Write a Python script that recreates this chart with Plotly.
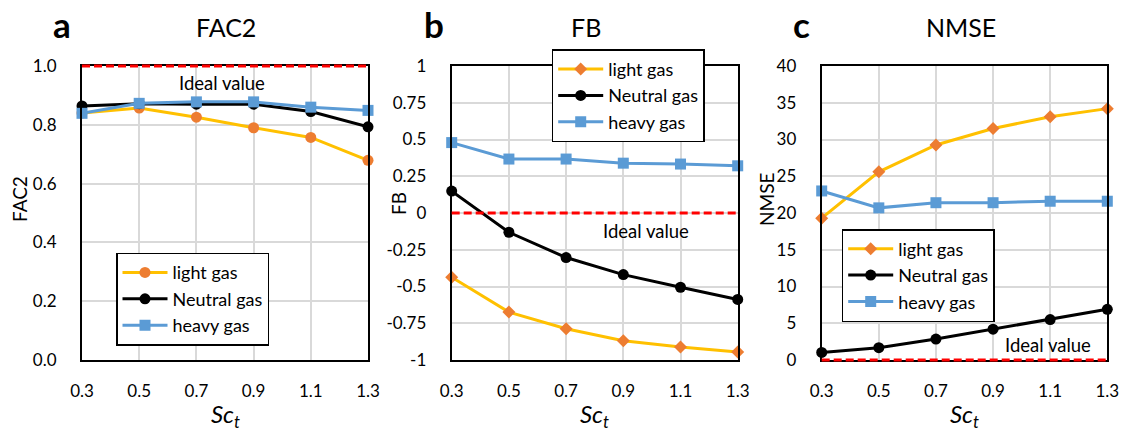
import plotly.graph_objects as go

sct = [0.3, 0.5, 0.7, 0.9, 1.1, 1.3]
x_ticks = ["0.3", "0.5", "0.7", "0.9", "1.1", "1.3"]

fac2_light = [0.840, 0.857, 0.826, 0.790, 0.757, 0.679]
fac2_neutral = [0.864, 0.872, 0.870, 0.870, 0.845, 0.793]
fac2_heavy = [0.839, 0.873, 0.878, 0.878, 0.860, 0.849]

fb_light = [-0.437, -0.674, -0.787, -0.869, -0.912, -0.946]
fb_neutral = [0.149, -0.131, -0.303, -0.419, -0.505, -0.588]
fb_heavy = [0.479, 0.367, 0.367, 0.339, 0.333, 0.321]

nmse_light = [19.3, 25.6, 29.25, 31.5, 33.1, 34.2]
nmse_neutral = [1.03, 1.67, 2.85, 4.2, 5.5, 6.9]
nmse_heavy = [23.0, 20.7, 21.4, 21.4, 21.6, 21.6]

fac2_ticks = [0.0, 0.2, 0.4, 0.6, 0.8, 1.0]
fb_ticks = [-1, -0.75, -0.5, -0.25, 0, 0.25, 0.5, 0.75, 1]
fb_ticklabels = ["-1", "-0.75", "-0.5", "-0.25", "0", "0.25", "0.5", "0.75", "1"]
nmse_ticks = [0, 5, 10, 15, 20, 25, 30, 35, 40]

series_names = ["light gas", "Neutral gas", "heavy gas"]
ideal = [1.0, 0.0, 0.0]

FONT = "Lato"
GOLD = "#FFC000"
ORANGE = "#ED7D31"
BLUE = "#5B9BD5"

W, H = 1125, 432
xdoms = [(82 / W, 368 / W), (451.7 / W, 737.7 / W), (821.7 / W, 1107.3 / W)]
ydom = (1 - 360 / H, 1 - 66 / H)
yranges = [[0, 1.0], [-1, 1], [0, 40]]

fig = go.Figure()

panels = [
    (fac2_light, fac2_neutral, fac2_heavy, "circle"),
    (fb_light, fb_neutral, fb_heavy, "diamond"),
    (nmse_light, nmse_neutral, nmse_heavy, "diamond"),
]
legend_ids = ["legend", "legend2", "legend3"]

for i, (l, n, h, lsym) in enumerate(panels):
    xa = "x" if i == 0 else f"x{i+1}"
    ya = "y" if i == 0 else f"y{i+1}"
    lg = legend_ids[i]
    fig.add_trace(go.Scatter(x=sct, y=l, name=series_names[0], mode="lines+markers",
                             line=dict(color=GOLD, width=3),
                             marker=dict(color=ORANGE, symbol=lsym, size=11 if lsym == "circle" else 10,
                                         line=dict(width=0)),
                             xaxis=xa, yaxis=ya, legend=lg, cliponaxis=False))
    fig.add_trace(go.Scatter(x=sct, y=n, name=series_names[1], mode="lines+markers",
                             line=dict(color="black", width=3),
                             marker=dict(color="black", symbol="circle", size=11, line=dict(width=0)),
                             xaxis=xa, yaxis=ya, legend=lg, cliponaxis=False))
    fig.add_trace(go.Scatter(x=sct, y=h, name=series_names[2], mode="lines+markers",
                             line=dict(color=BLUE, width=3),
                             marker=dict(color=BLUE, symbol="square", size=11, line=dict(width=0)),
                             xaxis=xa, yaxis=ya, legend=lg, cliponaxis=False))
    # ideal-value reference line, placed in axis-domain fraction so it is not clipped at the frame
    yfrac = (ideal[i] - yranges[i][0]) / (yranges[i][1] - yranges[i][0])
    fig.add_shape(type="line", xref=f"{xa} domain", yref=f"{ya} domain", x0=0, x1=1, y0=yfrac, y1=yfrac,
                  line=dict(color="red", width=3, dash="8px,4px"), layer="above")

axis_common = dict(showgrid=True, gridcolor="#D9D9D9", gridwidth=1.5, showline=True,
                   linecolor="black", linewidth=2, mirror=True, zeroline=False, automargin=False,
                   tickfont=dict(family=FONT, size=17, color="black"), ticks="")

ytickvals = [fac2_ticks, fb_ticks, nmse_ticks]
yticktext = [[f"{v:.1f}" for v in fac2_ticks], fb_ticklabels, [str(v) for v in nmse_ticks]]

layout = dict(width=W, height=H, margin=dict(l=0, r=0, t=0, b=0, pad=0, autoexpand=False),
              template="none",
              plot_bgcolor="white", paper_bgcolor="white", font=dict(family=FONT, color="black"))
for i in range(3):
    xk = "xaxis" if i == 0 else f"xaxis{i+1}"
    yk = "yaxis" if i == 0 else f"yaxis{i+1}"
    layout[xk] = dict(axis_common, domain=list(xdoms[i]), range=[0.3, 1.3], tickvals=sct,
                      ticktext=x_ticks, anchor="y" if i == 0 else f"y{i+1}", ticklabelstandoff=15)
    layout[yk] = dict(axis_common, domain=list(ydom), range=yranges[i], tickvals=ytickvals[i],
                      ticktext=yticktext[i], anchor="x" if i == 0 else f"x{i+1}", ticklabelstandoff=20)

leg_common = dict(bgcolor="white", bordercolor="black", borderwidth=1.5,
                  font=dict(family=FONT, size=18, color="black"), xref="paper", yref="paper",
                  xanchor="left", yanchor="top", itemwidth=45, tracegroupgap=0)
layout["legend"] = dict(leg_common, x=116 / W, y=1 - 252.7 / H)
layout["legend2"] = dict(leg_common, x=551.7 / W, y=1 - 49.3 / H)
layout["legend3"] = dict(leg_common, x=841.7 / W, y=1 - 229 / H)
fig.update_layout(**layout)

ann = []
letters = ["a", "b", "c"]
letter_x = [62, 434, 801]
letter_y = [24, 24, 24]
titles = ["FAC2", "FB", "NMSE"]
title_x = [226, 586, 961]
ytitles = ["FAC2", "FB", "NMSE"]
ytitle_x = [19, 398, 766]
ytitle_y = [199, 204, 200]
ideal_xy = [(222, 83), (646, 231), (1048, 345)]


def A(text, x, y, size, **kw):
    return dict(text=text, x=x / W, y=1 - y / H, xref="paper", yref="paper", showarrow=False,
                xanchor="center", yanchor="middle", font=dict(family=FONT, size=size, color="black"), **kw)


for i in range(3):
    ann.append(A(f"<b>{letters[i]}</b>", letter_x[i], letter_y[i], 35))
    ann.append(A(titles[i], title_x[i], 27, 25))
    ann.append(A(ytitles[i], ytitle_x[i], ytitle_y[i], 19, textangle=-90))
    ann.append(A("<i>Sc</i><sub><i>t</i></sub>", (xdoms[i][0] + xdoms[i][1]) / 2 * W, 415, 24))
    ann.append(A("Ideal value", ideal_xy[i][0], ideal_xy[i][1], 18.5))
fig.update_layout(annotations=ann)

fig.write_html("out.html")
